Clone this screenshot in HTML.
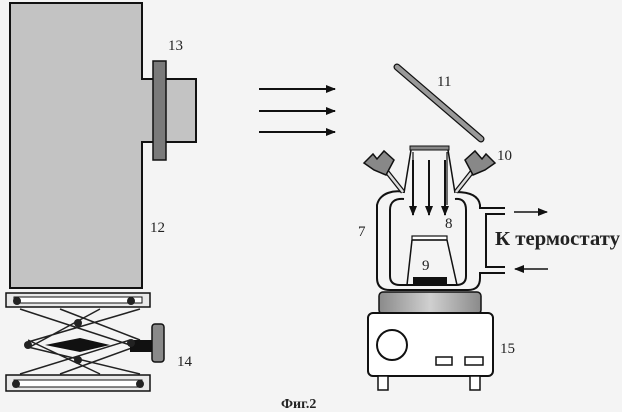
<!DOCTYPE html>
<html><head><meta charset="utf-8"><style>
html,body{margin:0;padding:0;background:#f4f4f4;}
svg{display:block}
text{font-family:"Liberation Serif",serif;fill:#222}
</style></head><body>
<svg width="622" height="412" viewBox="0 0 622 412" xmlns="http://www.w3.org/2000/svg">
<defs>
<marker id="ah" markerWidth="10" markerHeight="8" refX="9" refY="4" orient="auto" markerUnits="userSpaceOnUse">
<path d="M0,0 L10,4 L0,8 Z" fill="#111"/></marker>
<linearGradient id="st" x1="0" x2="1">
<stop offset="0" stop-color="#8a8a8a"/><stop offset="0.5" stop-color="#d0d0d0"/><stop offset="1" stop-color="#8a8a8a"/></linearGradient>
</defs>
<!-- laser box -->
<path d="M10,3 H142 V79 H196 V142 H142 V288 H10 Z" fill="#c3c3c3" stroke="#111" stroke-width="2"/>
<rect x="153" y="61" width="13" height="99" fill="#7a7a7a" stroke="#111" stroke-width="1.5"/>
<text x="168" y="50" font-size="15">13</text>
<text x="150" y="232" font-size="15">12</text>
<!-- lift -->
<rect x="6" y="293" width="144" height="14" fill="#e8e8e8" stroke="#111" stroke-width="1.5"/>
<rect x="14" y="297" width="128" height="6" fill="#fff" stroke="#111" stroke-width="1"/>
<rect x="6" y="375" width="144" height="16" fill="#e8e8e8" stroke="#111" stroke-width="1.5"/>
<rect x="14" y="380" width="128" height="7" fill="#fff" stroke="#111" stroke-width="1"/>
<g stroke="#222" stroke-width="1.5" fill="none">
<path d="M20,309 L130,345 M60,309 L140,340"/>
<path d="M20,374 L130,340 M60,374 L140,345"/>
<path d="M100,309 L28,348 M140,309 L28,342"/>
<path d="M100,374 L28,340 M140,374 L28,347"/>
</g>
<path d="M45,345 L80,338 L110,345 L80,352 Z" fill="#111"/>
<rect x="130" y="340" width="24" height="12" fill="#111"/>
<rect x="152" y="324" width="12" height="38" rx="3" fill="#8a8a8a" stroke="#111" stroke-width="1.5"/>
<g fill="#222"><circle cx="17" cy="301" r="4"/><circle cx="131" cy="301" r="4"/><circle cx="78" cy="323" r="4"/><circle cx="28" cy="345" r="4"/><circle cx="131" cy="343" r="4"/><circle cx="78" cy="360" r="4"/><circle cx="16" cy="384" r="4"/><circle cx="140" cy="384" r="4"/></g>
<text x="177" y="366" font-size="15">14</text>
<!-- beam arrows -->
<g stroke="#111" stroke-width="2"><line x1="259" y1="89" x2="335" y2="89" marker-end="url(#ah)"/><line x1="259" y1="111" x2="335" y2="111" marker-end="url(#ah)"/><line x1="259" y1="132" x2="335" y2="132" marker-end="url(#ah)"/></g>
<!-- mirror -->
<line x1="397" y1="67" x2="481" y2="139" stroke="#111" stroke-width="7" stroke-linecap="round"/>
<line x1="397" y1="67" x2="481" y2="139" stroke="#999" stroke-width="4.5" stroke-linecap="round"/>
<text x="437" y="86" font-size="15">11</text>
<text x="497" y="160" font-size="15">10</text>
<!-- vessel -->
<path d="M404,192 C395,190 380,192 377,205 V278 Q377,290 390,290 H468 Q480,290 480,278 V273 H505 M505,267 H486 V214 H505 M505,208 H480 V205 Q478,192 456,192" fill="none" stroke="#111" stroke-width="2"/>
<path d="M404,199 Q390,198 390,210 V276 Q390,285 400,285 H456 Q466,285 466,276 V210 Q466,198 455,199" fill="none" stroke="#111" stroke-width="2"/>
<rect x="410" y="146" width="39" height="4" fill="#888" stroke="#111" stroke-width="1"/>
<path d="M411,150 L404,193 M448,150 L455,193" stroke="#111" stroke-width="1.5" fill="none"/>
<path d="M413,152 V205 M447,152 V205" stroke="#111" stroke-width="1.2"/>
<g stroke="#111" stroke-width="2"><line x1="413" y1="160" x2="413" y2="215" marker-end="url(#ah)"/><line x1="429" y1="160" x2="429" y2="215" marker-end="url(#ah)"/><line x1="445" y1="160" x2="445" y2="215" marker-end="url(#ah)"/></g>
<!-- ports -->
<path d="M403,192 L384,168" stroke="#111" stroke-width="5"/><path d="M403,192 L384,168" stroke="#ddd" stroke-width="2.5"/>
<path d="M456,192 L475,168" stroke="#111" stroke-width="5"/><path d="M456,192 L475,168" stroke="#ddd" stroke-width="2.5"/>
<path d="M364,163 L373,154 L377,159 L384,151 L394,160 L386,175 L374,170 Z" fill="#888" stroke="#111" stroke-width="1.5"/>
<path d="M495,163 L486,154 L482,159 L475,151 L465,160 L473,175 L485,170 Z" fill="#888" stroke="#111" stroke-width="1.5"/>
<text x="358" y="236" font-size="15">7</text>
<text x="445" y="228" font-size="15">8</text>
<!-- sample -->
<rect x="412" y="236" width="35" height="4" fill="#fff" stroke="#111" stroke-width="1.2"/>
<path d="M412,240 L407,285 M447,240 L457,285 M412,240 H447" stroke="#111" stroke-width="1.5" fill="none"/>
<rect x="413" y="277" width="34" height="8" fill="#111"/>
<text x="422" y="270" font-size="15">9</text>
<!-- stirrer -->
<rect x="379" y="292" width="102" height="22" rx="4" fill="url(#st)" stroke="#111" stroke-width="1.5"/>
<rect x="368" y="313" width="125" height="63" rx="5" fill="#fff" stroke="#111" stroke-width="2"/>
<circle cx="392" cy="345" r="15" fill="#fff" stroke="#111" stroke-width="2"/>
<rect x="436" y="357" width="16" height="8" fill="#fff" stroke="#111" stroke-width="1.5"/>
<rect x="465" y="357" width="18" height="8" fill="#fff" stroke="#111" stroke-width="1.5"/>
<rect x="378" y="376" width="10" height="14" fill="#fff" stroke="#111" stroke-width="1.5"/>
<rect x="470" y="376" width="10" height="14" fill="#fff" stroke="#111" stroke-width="1.5"/>
<text x="500" y="353" font-size="15">15</text>
<!-- thermostat -->
<line x1="514" y1="212" x2="547" y2="212" stroke="#111" stroke-width="1.5" marker-end="url(#ah)"/>
<line x1="548" y1="269" x2="515" y2="269" stroke="#111" stroke-width="1.5" marker-end="url(#ah)"/>
<text x="495" y="245" font-size="20.5" font-weight="bold" textLength="125" lengthAdjust="spacingAndGlyphs">К термостату</text>
<text x="281" y="408" font-size="14" font-weight="bold">Фиг.2</text>
</svg>
</body></html>
